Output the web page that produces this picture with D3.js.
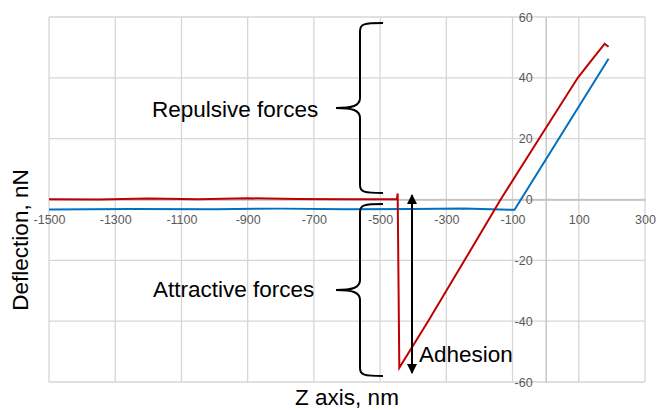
<!DOCTYPE html>
<html>
<head>
<meta charset="utf-8">
<script src="https://cdn.jsdelivr.net/npm/d3@7"></script>
<style>
  body { margin: 0; background: #fff; }
  text { font-family: "Liberation Sans", Arial, sans-serif; }
</style>
</head>
<body>
<div class="container"></div>
<script>
// data (Z in nm, deflection in nN)
const redZ = [-1500, -1350, -1200, -1050, -900, -750, -600, -449, -447, -442, -355, -245, -136, -20, 97, 140, 178, 190];
const redDefl = [0.1, 0.0, 0.3, 0.1, 0.4, 0.2, 0.1, 0.2, 2, -55.3, -40, -20, 0, 20, 40, 46, 51.2, 50.2];
const blueZ = [-1500, -1250, -1000, -800, -600, -400, -250, -94, 190];
const blueDefl = [-3.3, -3.1, -3.2, -3.0, -3.2, -3.1, -3.0, -3.4, 46.3];
const xTicks = [-1500, -1300, -1100, -900, -700, -500, -300, -100, 100, 300];
const yTicks = [-60, -40, -20, 0, 20, 40, 60];

// set the height, width and margin variables
const height = 410;
const width = 659;
const margin = { top: 17, bottom: 28, left: 49, right: 14 };

const svg = d3.select(".container")
  .append("svg")
  .attr("width", width)
  .attr("height", height);

// scales
const xScale = d3.scaleLinear()
  .domain([-1500, 300])
  .range([margin.left, width - margin.right]);

const yScale = d3.scaleLinear()
  .domain([-60, 60])
  .range([height - margin.bottom, margin.top]);

// grid lines
svg.append("g")
  .selectAll("line")
  .data(xTicks)
  .join("line")
  .attr("x1", d => xScale(d)).attr("x2", d => xScale(d))
  .attr("y1", yScale(60)).attr("y2", yScale(-60))
  .attr("stroke", "#d6d6d6")
  .attr("stroke-width", 1.3);

svg.append("g")
  .selectAll("line")
  .data(yTicks)
  .join("line")
  .attr("x1", xScale(-1500)).attr("x2", xScale(300))
  .attr("y1", d => yScale(d)).attr("y2", d => yScale(d))
  .attr("stroke", "#d6d6d6")
  .attr("stroke-width", 1.3);

// x axis through zero
function xAxis(g) {
  g.call(d3.axisBottom(xScale)
    .tickValues(xTicks)
    .tickSize(0)
    .tickPadding(16)
    .tickFormat(d => String(d)));
  g.select(".domain").attr("stroke", "#bfbfbf").attr("stroke-width", 1.3);
  g.selectAll("text").attr("fill", "#595959").attr("font-size", "12.5px")
    .style("font-family", "Liberation Sans, Arial, sans-serif");
}

// y axis through zero
function yAxis(g) {
  g.call(d3.axisLeft(yScale)
    .tickValues(yTicks)
    .tickSize(0)
    .tickPadding(13)
    .tickFormat(d => String(d)));
  g.select(".domain").attr("stroke", "#bfbfbf").attr("stroke-width", 1.3);
  g.selectAll("text").attr("fill", "#595959").attr("font-size", "12.5px")
    .style("font-family", "Liberation Sans, Arial, sans-serif");
}

svg.append("g")
  .attr("transform", `translate(0, ${yScale(0)})`)
  .call(xAxis);

svg.append("g")
  .attr("transform", `translate(${xScale(0)}, 0)`)
  .call(yAxis);

// curves
const line = d3.line()
  .x(d => xScale(d[0]))
  .y(d => yScale(d[1]));

svg.append("path")
  .datum(d3.zip(blueZ, blueDefl))
  .attr("d", line)
  .attr("fill", "none")
  .attr("stroke", "#0070c0")
  .attr("stroke-width", 2);

svg.append("path")
  .datum(d3.zip(redZ, redDefl))
  .attr("d", line)
  .attr("fill", "none")
  .attr("stroke", "#c00000")
  .attr("stroke-width", 2);

// curly braces, tip pointing left
function brace(xTip, xEnd, yTop, yMid, yBot) {
  const xs = xTip + 24;
  return `M${xEnd},${yTop} C${xs + 4},${yTop} ${xs},${yTop + 1} ${xs},${yTop + 8}`
    + ` L${xs},${yMid - 10} C${xs},${yMid - 2} ${xs - 8},${yMid} ${xTip},${yMid}`
    + ` C${xs - 8},${yMid} ${xs},${yMid + 2} ${xs},${yMid + 10}`
    + ` L${xs},${yBot - 8} C${xs},${yBot - 1} ${xs + 4},${yBot} ${xEnd},${yBot}`;
}

svg.append("path")
  .attr("d", brace(336, 383, 23, 108, 193))
  .attr("fill", "none").attr("stroke", "#000").attr("stroke-width", 2);

svg.append("path")
  .attr("d", brace(336, 383, 204, 290, 376))
  .attr("fill", "none").attr("stroke", "#000").attr("stroke-width", 2);

// adhesion double arrow
svg.append("defs").append("marker")
  .attr("id", "head")
  .attr("viewBox", "0 0 10 10")
  .attr("refX", 9).attr("refY", 5)
  .attr("markerWidth", 11).attr("markerHeight", 10)
  .attr("markerUnits", "userSpaceOnUse")
  .attr("orient", "auto-start-reverse")
  .append("path")
  .attr("d", "M0,0 L10,5 L0,10 Z")
  .attr("fill", "#000");

svg.append("line")
  .attr("x1", 412).attr("x2", 412)
  .attr("y1", 195).attr("y2", 373)
  .attr("stroke", "#000").attr("stroke-width", 2)
  .attr("marker-start", "url(#head)")
  .attr("marker-end", "url(#head)");

// annotation texts
const labelSize = "22.5px";
svg.append("text").attr("x", 152).attr("y", 117)
  .attr("font-size", labelSize).text("Repulsive forces");
svg.append("text").attr("x", 153).attr("y", 297)
  .attr("font-size", labelSize).text("Attractive forces");
svg.append("text").attr("x", 419).attr("y", 362)
  .attr("font-size", labelSize).text("Adhesion");

// axis titles
svg.append("text")
  .attr("x", 347).attr("y", 405)
  .attr("text-anchor", "middle")
  .attr("font-size", labelSize)
  .text("Z axis, nm");

svg.append("text")
  .attr("transform", "translate(28, 240) rotate(-90)")
  .attr("text-anchor", "middle")
  .attr("font-size", labelSize)
  .text("Deflection, nN");
</script>
</body>
</html>
